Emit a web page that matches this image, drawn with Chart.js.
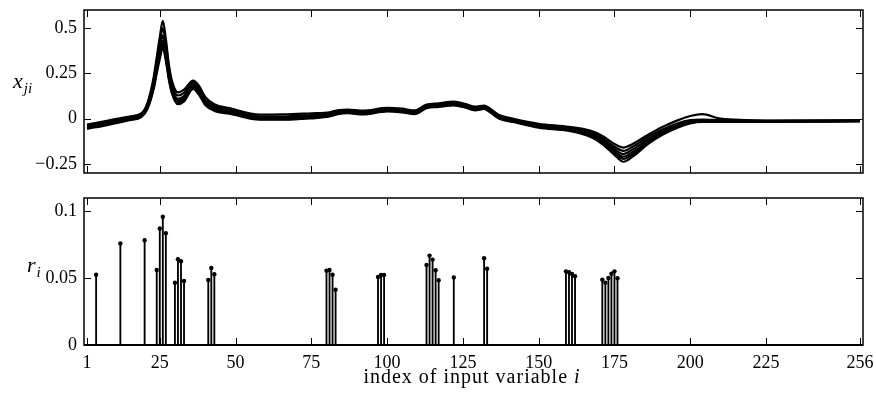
<!DOCTYPE html>
<html>
<head>
<meta charset="utf-8">
<script src="https://cdn.jsdelivr.net/npm/chart.js@4.4.1/dist/chart.umd.min.js"></script>
<style>
  html, body { margin: 0; padding: 0; background: #fff; }
  #wrap { position: relative; width: 876px; height: 394px; }
  #graficoEspectros, #graficoRelevancia { position: absolute; left: 0; }
  #graficoEspectros { top: 0; }
  #graficoRelevancia { top: 185px; }
</style>
</head>
<body>
<div id="wrap">
  <canvas id="graficoEspectros" width="876" height="185"></canvas>
  <canvas id="graficoRelevancia" width="876" height="209"></canvas>
</div>
<script>
const indices = [1, 8, 15, 19, 21, 23, 24, 25, 26, 27, 28, 29, 31, 33, 36, 38, 40, 43, 48, 58, 66, 75, 81, 84, 87, 92, 100, 105, 109, 113, 117, 122, 126, 129, 132, 134, 137, 142, 150, 160, 167, 171, 175, 178, 181, 186, 191, 196, 200, 204, 210, 225, 256];

// a handful of the input spectra x_ji (top panel)
const curva1 = [-0.032, -0.010, 0.012, 0.030, 0.090, 0.230, 0.340, 0.450, 0.540, 0.440, 0.300, 0.210, 0.145, 0.160, 0.210, 0.180, 0.120, 0.080, 0.058, 0.022, 0.024, 0.030, 0.035, 0.048, 0.050, 0.044, 0.060, 0.055, 0.046, 0.078, 0.085, 0.094, 0.080, 0.066, 0.072, 0.055, 0.020, -0.002, -0.028, -0.045, -0.066, -0.095, -0.140, -0.160, -0.140, -0.090, -0.045, -0.008, 0.015, 0.025, 0.000, -0.010, -0.008];
const curva2 = [-0.037, -0.015, 0.008, 0.026, 0.082, 0.215, 0.320, 0.420, 0.500, 0.410, 0.280, 0.190, 0.128, 0.143, 0.200, 0.170, 0.110, 0.070, 0.050, 0.012, 0.012, 0.020, 0.028, 0.042, 0.045, 0.038, 0.055, 0.050, 0.040, 0.073, 0.080, 0.088, 0.075, 0.060, 0.068, 0.050, 0.015, -0.006, -0.033, -0.050, -0.075, -0.105, -0.155, -0.178, -0.155, -0.102, -0.058, -0.025, -0.008, -0.005, -0.008, -0.012, -0.010];
const curva3 = [-0.042, -0.020, 0.004, 0.022, 0.075, 0.200, 0.300, 0.390, 0.460, 0.370, 0.250, 0.170, 0.110, 0.125, 0.190, 0.155, 0.095, 0.060, 0.042, 0.006, 0.004, 0.012, 0.022, 0.036, 0.040, 0.033, 0.050, 0.045, 0.035, 0.068, 0.075, 0.083, 0.070, 0.056, 0.064, 0.045, 0.010, -0.010, -0.038, -0.055, -0.083, -0.115, -0.168, -0.195, -0.170, -0.115, -0.068, -0.035, -0.016, -0.011, -0.012, -0.014, -0.012];
const curva4 = [-0.047, -0.025, 0.000, 0.018, 0.068, 0.185, 0.280, 0.370, 0.430, 0.350, 0.235, 0.160, 0.100, 0.113, 0.180, 0.145, 0.088, 0.053, 0.036, 0.002, 0.000, 0.008, 0.018, 0.032, 0.036, 0.029, 0.046, 0.041, 0.031, 0.064, 0.071, 0.079, 0.066, 0.052, 0.060, 0.041, 0.006, -0.014, -0.042, -0.060, -0.090, -0.125, -0.180, -0.210, -0.185, -0.125, -0.075, -0.040, -0.020, -0.014, -0.014, -0.016, -0.013];
const curva5 = [-0.052, -0.030, -0.004, 0.014, 0.062, 0.175, 0.265, 0.350, 0.410, 0.335, 0.225, 0.150, 0.090, 0.104, 0.172, 0.138, 0.082, 0.048, 0.031, -0.002, -0.003, 0.005, 0.015, 0.029, 0.033, 0.026, 0.043, 0.038, 0.028, 0.061, 0.068, 0.076, 0.063, 0.049, 0.057, 0.038, 0.003, -0.017, -0.046, -0.064, -0.096, -0.133, -0.190, -0.222, -0.198, -0.133, -0.081, -0.044, -0.023, -0.016, -0.016, -0.017, -0.014];
const curva6 = [-0.056, -0.034, -0.008, 0.010, 0.056, 0.165, 0.250, 0.330, 0.390, 0.320, 0.215, 0.140, 0.080, 0.095, 0.165, 0.130, 0.076, 0.043, 0.027, -0.006, -0.006, 0.002, 0.012, 0.026, 0.030, 0.023, 0.040, 0.035, 0.025, 0.058, 0.065, 0.073, 0.060, 0.046, 0.054, 0.035, 0.000, -0.020, -0.050, -0.068, -0.100, -0.140, -0.200, -0.238, -0.210, -0.140, -0.087, -0.048, -0.026, -0.018, -0.018, -0.018, -0.015];

// relevance r_i of the selected variables (bottom panel)
const stemIdx = [4, 12, 20, 24, 25, 26, 27, 30, 31, 32, 33, 41, 42, 43, 80, 81, 82, 83, 97, 98, 99, 113, 114, 115, 116, 117, 122, 132, 133, 159, 160, 161, 162, 171, 172, 173, 174, 175, 176];
const stemVal = [0.0526, 0.0759, 0.0784, 0.0561, 0.0872, 0.0960, 0.0837, 0.0466, 0.0642, 0.0627, 0.0479, 0.0486, 0.0576, 0.0529, 0.0556, 0.0561, 0.0526, 0.0414, 0.0509, 0.0524, 0.0524, 0.0599, 0.0669, 0.0639, 0.0559, 0.0484, 0.0506, 0.0649, 0.0571, 0.0551, 0.0544, 0.0531, 0.0514, 0.0489, 0.0466, 0.0501, 0.0534, 0.0551, 0.0499];

const xTicks = [1, 25, 50, 75, 100, 125, 150, 175, 200, 225, 256];
const yTicksArriba = [-0.25, 0, 0.25, 0.5];
const yTicksAbajo = [0, 0.05, 0.1];

const fuente = '"Liberation Serif", "Times New Roman", serif';

const formatear = (v) => (v < 0 ? '\u2212' + Math.abs(v) : String(v));

// box with inward ticks on all four sides, plus the math labels
const marcoPlugin = {
  id: 'marco',
  afterDatasetsDraw(chart, args, opts) {
    const { ctx, chartArea: a, scales } = chart;
    const len = 7;
    ctx.save();
    ctx.strokeStyle = '#000';
    ctx.lineWidth = 1;
    ctx.beginPath();
    xTicks.forEach((v) => {
      const x = Math.round(scales.x.getPixelForValue(v)) + 0.5;
      ctx.moveTo(x, a.top); ctx.lineTo(x, a.top + len);
      ctx.moveTo(x, a.bottom); ctx.lineTo(x, a.bottom - len);
    });
    opts.yTicks.forEach((v) => {
      const y = Math.round(scales.y.getPixelForValue(v)) + 0.5;
      ctx.moveTo(a.left, y); ctx.lineTo(a.left + len, y);
      ctx.moveTo(a.right, y); ctx.lineTo(a.right - len, y);
    });
    ctx.stroke();
    ctx.lineWidth = 1.5;
    ctx.strokeRect(a.left, a.top, a.right - a.left, a.bottom - a.top);
    if (opts.base) {
      ctx.lineWidth = 2.2;
      ctx.beginPath();
      const y0 = scales.y.getPixelForValue(0);
      ctx.moveTo(a.left, y0); ctx.lineTo(a.right, y0);
      ctx.stroke();
    }
    // y label with subscript
    ctx.fillStyle = '#000';
    ctx.textBaseline = 'alphabetic';
    ctx.font = 'italic 22px ' + fuente;
    ctx.fillText(opts.simbolo, opts.lx, opts.ly);
    const w = ctx.measureText(opts.simbolo).width;
    ctx.font = 'italic 15px ' + fuente;
    ctx.fillText(opts.sub, opts.lx + w + 1, opts.ly + 5);
    if (opts.titulo) {
      ctx.letterSpacing = '1px';
      ctx.font = '20px ' + fuente;
      const t1 = 'index of input variable ';
      const w1 = ctx.measureText(t1).width;
      ctx.font = 'italic 20px ' + fuente;
      const w2 = ctx.measureText('i').width;
      const x0 = 472 - (w1 + w2) / 2;
      ctx.font = '20px ' + fuente;
      ctx.fillText(t1, x0, opts.ty);
      ctx.font = 'italic 20px ' + fuente;
      ctx.fillText('i', x0 + w1, opts.ty);
    }
    ctx.restore();
  },
};

const ejeY = (min, max, ticks) => ({
  type: 'linear',
  min: min,
  max: max,
  afterBuildTicks: (scale) => { scale.ticks = ticks.map((v) => ({ value: v })); },
  afterFit: (scale) => {
    scale.width = 84;
    scale.paddingTop = 0;
    scale.paddingBottom = 0;
  },
  grid: { display: false, drawTicks: false },
  border: { display: false },
  ticks: {
    padding: 7,
    color: '#000',
    font: { family: fuente, size: 18 },
    callback: (v) => formatear(v),
  },
});

const ejeX = (mostrar) => ({
  type: 'linear',
  min: 0,
  max: 257,
  offset: false,
  display: mostrar,
  afterBuildTicks: (scale) => { scale.ticks = xTicks.map((v) => ({ value: v })); },
  afterFit: (scale) => {
    scale.height = mostrar ? 49 : 0;
    scale.paddingLeft = 0;
    scale.paddingRight = 0;
  },
  grid: { display: false, drawTicks: false, offset: false },
  border: { display: false },
  ticks: {
    padding: 7,
    color: '#000',
    maxRotation: 0,
    autoSkip: false,
    font: { family: fuente, size: 18 },
  },
});

const curvas = [curva1, curva2, curva3, curva4, curva5, curva6];

new Chart(document.getElementById('graficoEspectros'), {
  type: 'line',
  data: {
    datasets: curvas.map((c) => ({
      data: indices.map((x, i) => ({ x: x, y: c[i] })),
      borderColor: '#000',
      borderWidth: 2.2,
      pointRadius: 0,
      fill: false,
      cubicInterpolationMode: 'monotone',
    })),
  },
  options: {
    responsive: false,
    animation: false,
    layout: { padding: { left: 0, right: 13, top: 10, bottom: 12 } },
    scales: { x: ejeX(false), y: ejeY(-0.3, 0.6, yTicksArriba) },
    plugins: {
      legend: { display: false },
      tooltip: { enabled: false },
      marco: { yTicks: yTicksArriba, simbolo: 'x', sub: 'ji', lx: 13, ly: 88 },
    },
  },
  plugins: [marcoPlugin],
});

const puntos = stemIdx.map((x, i) => ({ x: x, y: stemVal[i] }));

new Chart(document.getElementById('graficoRelevancia'), {
  type: 'bar',
  data: {
    datasets: [
      {
        type: 'bar',
        data: puntos,
        backgroundColor: '#000',
        barThickness: 1.2,
        grouped: false,
      },
      {
        type: 'scatter',
        data: puntos,
        backgroundColor: '#000',
        borderWidth: 0,
        pointRadius: 2.2,
      },
    ],
  },
  options: {
    responsive: false,
    animation: false,
    layout: { padding: { left: 0, right: 13, top: 13, bottom: 0 } },
    scales: { x: ejeX(true), y: ejeY(0, 0.11, yTicksAbajo) },
    plugins: {
      legend: { display: false },
      tooltip: { enabled: false },
      marco: { yTicks: yTicksAbajo, simbolo: 'r', sub: 'i', lx: 27, ly: 87, base: true, titulo: true, ty: 198 },
    },
  },
  plugins: [marcoPlugin],
});
</script>
</body>
</html>
